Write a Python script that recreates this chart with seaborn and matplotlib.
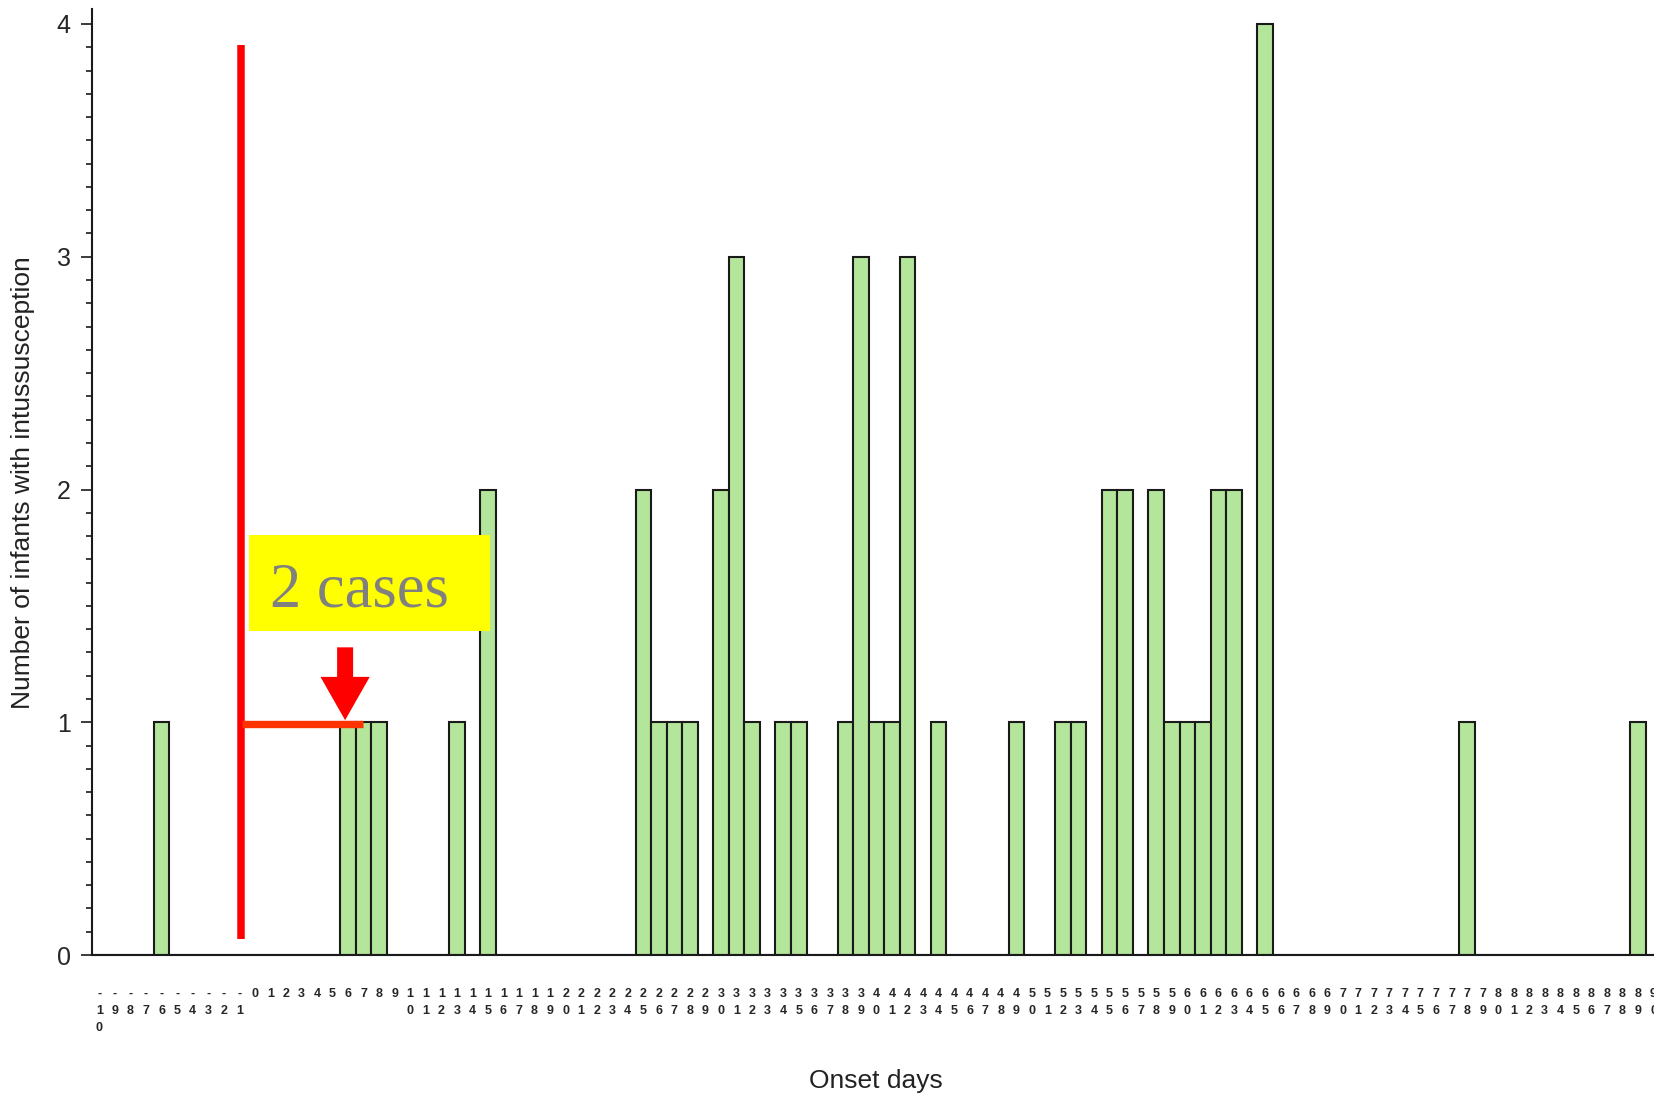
import numpy as np
import pandas as pd
import matplotlib.pyplot as plt
import seaborn as sns
from matplotlib.patches import Rectangle, FancyArrow
from matplotlib.ticker import MultipleLocator


# onset day categories on the x axis (-10 .. 90)
onset_days = list(range(-10, 91))

# days that had at least one case, and how many
case_days = [-6, 6, 7, 8, 13, 15, 25, 26, 27, 28, 30, 31, 32, 34, 35, 38, 39, 40,
             41, 42, 44, 49, 52, 53, 55, 56, 58, 59, 60, 61, 62, 63, 65, 78, 89]
case_counts = [1, 1, 1, 1, 1, 2, 2, 1, 1, 1, 2, 3, 1, 1, 1, 1, 3, 1,
               1, 3, 1, 1, 1, 1, 2, 2, 2, 1, 1, 1, 2, 2, 4, 1, 1]

counts = pd.Series(case_counts, index=case_days).reindex(onset_days, fill_value=0)
df = pd.DataFrame({
    'label': ['\n'.join(str(d)) for d in onset_days],  # digits stacked vertically
    'cases': counts.values,
})

sns.set_style('ticks')
plt.rcParams['font.family'] = ['Liberation Sans', 'DejaVu Sans']

fig = plt.figure(figsize=(16.54, 10.98), dpi=100)
ax = fig.add_axes([0.0554, 0.1302, 0.9446, 0.8613])

sns.barplot(data=df, x='label', y='cases', order=df['label'], color='#b3e59a',
            saturation=1, edgecolor='#1a1a1a', linewidth=1.5, width=1.0, ax=ax)

ax.set_xlim(-0.5, 100.03)
ax.set_ylim(0, 4.063)

# axes look
for s in ['top', 'right']:
    ax.spines[s].set_visible(False)
for s in ['left', 'bottom']:
    ax.spines[s].set_linewidth(1.5)
    ax.spines[s].set_color('#1a1a1a')

ax.yaxis.set_major_locator(MultipleLocator(1))
ax.yaxis.set_minor_locator(MultipleLocator(0.1))
ax.tick_params(axis='y', which='major', length=8, width=1.2, pad=7, color='#1a1a1a')
ax.tick_params(axis='y', which='minor', length=4.3, width=1.2, color='#1a1a1a')
ax.tick_params(axis='x', length=0, pad=23.5)

for t in ax.get_yticklabels():
    t.set_family(['Liberation Sans Narrow', 'Liberation Sans'])
    t.set_fontsize(18)
for t in ax.get_xticklabels():
    t.set_family(['Liberation Sans Narrow', 'Liberation Sans'])
    t.set_fontsize(9)
    t.set_fontweight('bold')
    t.set_linespacing(1.6)

ax.set_ylabel('Number of infants with intussusception', fontsize=19, va='center', color='#222222')
ax.yaxis.set_label_coords(-0.044, 0.5)
ax.set_xlabel('Onset days', fontsize=19, va='center', color='#222222')
ax.xaxis.set_label_coords(0.502, -0.133)

# annotations
ax.plot([9.14, 9.14], [0.07, 3.91], color='#ff0000', lw=5.4, solid_capstyle='butt', zorder=5)
ax.plot([9.18, 16.93], [0.994, 0.994], color='#ff3300', lw=5.3, solid_capstyle='butt', zorder=5)
ax.add_patch(FancyArrow(15.81, 1.322, 0, -0.313, width=1.03, head_width=3.17,
                        head_length=0.186, length_includes_head=True,
                        color='#ff0000', lw=0, zorder=6))
ax.add_patch(Rectangle((9.62, 1.392), 25.12 - 9.62, 1.804 - 1.392,
                       facecolor='#ffff00', edgecolor='none', zorder=5))
ax.text(10.97, 1.499, '2 cases', fontsize=45, family=['Liberation Serif', 'DejaVu Serif'],
        color='#808080', ha='left', va='baseline', zorder=6)

fig.savefig('out.png', dpi=100)
